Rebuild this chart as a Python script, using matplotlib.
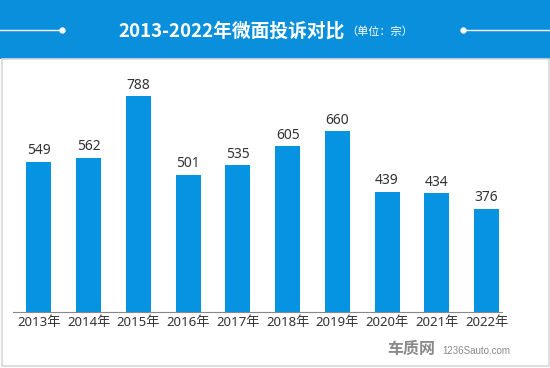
import matplotlib
matplotlib.use("Agg")
import matplotlib.pyplot as plt
from matplotlib.patches import Rectangle
from matplotlib.lines import Line2D

plt.rcParams['font.family'] = ['Noto Sans CJK SC', 'DejaVu Sans']
LAT = ['Noto Sans', 'Noto Sans CJK SC']

years = ["2013年", "2014年", "2015年", "2016年", "2017年", "2018年", "2019年", "2020年", "2021年", "2022年"]
values = [549, 562, 788, 501, 535, 605, 660, 439, 434, 376]
title = "2013-2022年微面投诉对比"
unit = "（单位：宗）"

W, H = 550, 368
fig = plt.figure(figsize=(W / 100, H / 100), dpi=100)
fig.patch.set_facecolor("white")

def fx(px):
    return px / W

def fy(py):
    return 1 - py / H

# header band
fig.add_artist(Rectangle((0, fy(59)), 1, 59 / H, transform=fig.transFigure,
                         facecolor="#0a8fdc", edgecolor="none", zorder=0))
# gray frame
fig.add_artist(Rectangle((fx(1.5), fy(366)), fx(547), (366 - 59) / H, transform=fig.transFigure,
                         facecolor="none", edgecolor="#d8d8d8", linewidth=1.2, zorder=1))
# header lines with dots
fig.add_artist(Line2D([0, fx(62)], [fy(30), fy(30)], transform=fig.transFigure, color="white", lw=1))
fig.add_artist(Line2D([fx(463), 1], [fy(30), fy(30)], transform=fig.transFigure, color="white", lw=1))
fig.add_artist(Line2D([fx(62)], [fy(30)], transform=fig.transFigure, color="white", marker="o", ms=3.5, lw=0))
fig.add_artist(Line2D([fx(463)], [fy(30)], transform=fig.transFigure, color="white", marker="o", ms=3.5, lw=0))

fig.text(fx(345), fy(31), title, color="white", fontsize=13.5, fontweight="bold",
         ha="right", va="center")
fig.text(fx(346), fy(32), unit, color="white", fontsize=8, ha="left", va="center")

# axes
ax_left, ax_right = 13, 502
ax_top, ax_bottom = 70, 312
ax = fig.add_axes([fx(ax_left), fy(ax_bottom), fx(ax_right - ax_left), (ax_bottom - ax_top) / H])
ax.set_facecolor("none")
x = list(range(len(years)))
ax.bar(x, values, width=0.5, color="#0593e2", zorder=2)
scale = (312 - 96) / 788
ymax = (ax_bottom - ax_top) / scale
ax.set_ylim(0, ymax)
ax.set_xlim(-0.52, 9.31)
for xi, v in zip(x, values):
    ax.annotate(str(v), (xi, v), xytext=(0, 2.5), textcoords="offset points",
                ha="center", va="bottom", fontsize=10, color="#333333", family=LAT)
ax.set_xticks(x)
ax.set_xticklabels(years, fontsize=9.5, color="#333333", family=LAT)
ax.tick_params(axis="x", length=0, pad=3)
ax.set_yticks([])
for s in ["top", "right", "left"]:
    ax.spines[s].set_visible(False)
ax.spines["bottom"].set_color("#888888")
ax.spines["bottom"].set_linewidth(0.8)

# watermark
fig.text(fx(411), fy(349), "车质网", color="#8a8a8a", fontsize=11.5, fontweight="bold",
         ha="center", va="center")
fig.text(fx(442), fy(351), "1236Sauto.com", color="#8a8a8a", fontsize=7,
         ha="left", va="center", family=['Liberation Sans'])

fig.savefig("out.png", dpi=100, facecolor="white")
